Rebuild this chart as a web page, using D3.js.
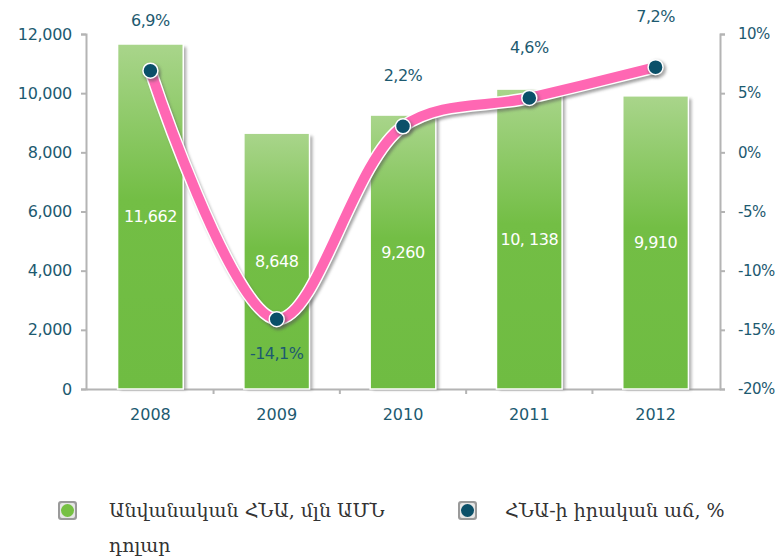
<!DOCTYPE html>
<html>
<head>
<meta charset="utf-8">
<script src="https://cdn.jsdelivr.net/npm/d3@7"></script>
<style>
  body { margin: 0; background: #fff; }
  #viz text { font-family: "DejaVu Sans", sans-serif; }
</style>
</head>
<body>
<div id="viz"></div>
<script>
// chart data
var years = ['2008', '2009', '2010', '2011', '2012'];
var gdp = [11662, 8648, 9260, 10138, 9910];
var gdpLabels = ['11,662', '8,648', '9,260', '10, 138', '9,910'];
var growth = [6.9, -14.1, 2.2, 4.6, 7.2];
var growthLabels = ['6,9%', '-14,1%', '2,2%', '4,6%', '7,2%'];
var leftTicks = [0, 2000, 4000, 6000, 8000, 10000, 12000];
var rightTicks = [-20, -15, -10, -5, 0, 5, 10];
var legendNames = ['Անվանական ՀՆԱ, մլն ԱՄՆ', 'ՀՆԱ-ի իրական աճ, %'];

var W = 784, H = 556;
var margin = {top: 34, right: 64, bottom: 167, left: 86};
var width = W - margin.left - margin.right,
    height = H - margin.top - margin.bottom;

var teal = '#1d5a70';

var svgRoot = d3.select('#viz').append('svg')
    .attr('width', W)
    .attr('height', H);

var defs = svgRoot.append('defs');
var grad = defs.append('linearGradient')
    .attr('id', 'barGrad')
    .attr('x1', 0).attr('y1', 0).attr('x2', 0).attr('y2', 1);
grad.append('stop').attr('offset', '0%').attr('stop-color', '#a9d58b');
grad.append('stop').attr('offset', '45%').attr('stop-color', '#73be45');
grad.append('stop').attr('offset', '100%').attr('stop-color', '#6fbc42');

var blur = defs.append('filter').attr('id', 'shadow')
    .attr('x', '-20%').attr('y', '-20%').attr('width', '140%').attr('height', '140%');
blur.append('feGaussianBlur').attr('stdDeviation', 1.5);

var svg = svgRoot.append('g')
    .attr('transform', 'translate(' + margin.left + ',' + margin.top + ')');

// scales
var x = d3.scaleBand().domain(years).range([0, width]).paddingInner(0.48).paddingOuter(0.25);
var y = d3.scaleLinear().domain([0, 12000]).range([height, 0]);
var y2 = d3.scaleLinear().domain([-20, 10]).range([height, 0]);

// left axis
var yAxis = svg.append('g')
    .call(d3.axisLeft(y).tickValues(leftTicks).tickSize(5).tickPadding(9)
      .tickFormat(d3.format(',')));
yAxis.select('.domain').attr('stroke', '#b4b4b4').attr('stroke-width', 2);
yAxis.selectAll('line').attr('stroke', '#b4b4b4').attr('stroke-width', 2);
yAxis.selectAll('text').attr('fill', teal).style('font-size', '16px')
    .style('letter-spacing', '-0.3px');

// right axis
var y2Axis = svg.append('g')
    .attr('transform', 'translate(' + width + ',0)')
    .call(d3.axisRight(y2).tickValues(rightTicks).tickSize(5).tickPadding(13)
      .tickFormat(function(d) { return d + '%'; }));
y2Axis.select('.domain').attr('stroke', '#b4b4b4').attr('stroke-width', 2);
y2Axis.selectAll('line').attr('stroke', '#b4b4b4').attr('stroke-width', 2);
y2Axis.selectAll('text').attr('fill', teal).style('font-size', '15px')
    .style('letter-spacing', '-0.5px');

// bottom axis
var step = x.step();
var xAxis = svg.append('g')
    .attr('transform', 'translate(0,' + height + ')')
    .call(d3.axisBottom(x).tickSize(0).tickPadding(20));
xAxis.select('.domain').attr('stroke', '#b4b4b4').attr('stroke-width', 2);
xAxis.selectAll('text').attr('fill', teal).style('font-size', '16px');
xAxis.selectAll('.sep')
    .data(years.slice(1))
    .enter().append('line')
    .attr('x1', function(d) { return x(d) - (step - x.bandwidth()) / 2; })
    .attr('x2', function(d) { return x(d) - (step - x.bandwidth()) / 2; })
    .attr('y1', 0).attr('y2', 5)
    .attr('stroke', '#b4b4b4').attr('stroke-width', 2);

// bars
var bars = svg.selectAll('.bar')
    .data(gdp)
    .enter().append('g')
    .attr('class', 'bar');
bars.append('rect')
    .attr('x', function(d, i) { return x(years[i]) + 3; })
    .attr('y', function(d) { return y(d) + 3; })
    .attr('width', x.bandwidth())
    .attr('height', function(d) { return height - y(d) - 2; })
    .attr('fill', '#777')
    .attr('opacity', 0.6)
    .attr('filter', 'url(#shadow)');
bars.append('rect')
    .attr('x', function(d, i) { return x(years[i]); })
    .attr('y', function(d) { return y(d); })
    .attr('width', x.bandwidth())
    .attr('height', function(d) { return height - y(d); })
    .attr('fill', 'url(#barGrad)')
    .attr('stroke', '#fff')
    .attr('stroke-width', 1.5);
bars.append('text')
    .attr('x', function(d, i) { return x(years[i]) + x.bandwidth() / 2; })
    .attr('y', function(d) { return y(d / 2) + 6; })
    .attr('text-anchor', 'middle')
    .attr('fill', '#fff')
    .style('font-size', '16px')
    .style('letter-spacing', '-0.5px')
    .text(function(d, i) { return gdpLabels[i]; });

// growth line
var pts = growth.map(function(g, i) { return [x(years[i]) + x.bandwidth() / 2, y2(g)]; });
var line = d3.line().curve(d3.curveCatmullRom.alpha(0.5));

svg.append('path')
    .attr('d', line(pts))
    .attr('transform', 'translate(2,3)')
    .attr('fill', 'none')
    .attr('stroke', '#555')
    .attr('stroke-width', 12)
    .attr('opacity', 0.55)
    .attr('filter', 'url(#shadow)');
svg.append('path')
    .attr('d', line(pts))
    .attr('fill', 'none')
    .attr('stroke', '#fff')
    .attr('stroke-width', 13);
svg.append('path')
    .attr('d', line(pts))
    .attr('fill', 'none')
    .attr('stroke', '#ff67b3')
    .attr('stroke-width', 10);

svg.selectAll('.dotShadow')
    .data(pts)
    .enter().append('circle')
    .attr('cx', function(d) { return d[0] + 1.5; })
    .attr('cy', function(d) { return d[1] + 2; })
    .attr('r', 9)
    .attr('fill', '#555')
    .attr('opacity', 0.5)
    .attr('filter', 'url(#shadow)');
svg.selectAll('.dot')
    .data(pts)
    .enter().append('circle')
    .attr('cx', function(d) { return d[0]; })
    .attr('cy', function(d) { return d[1]; })
    .attr('r', 7.5)
    .attr('fill', '#0b5069')
    .attr('stroke', '#fff')
    .attr('stroke-width', 1.5);

svg.selectAll('.glabel')
    .data(growth)
    .enter().append('text')
    .attr('x', function(d, i) { return pts[i][0]; })
    .attr('y', function(d, i) { return d < 0 ? pts[i][1] + 40 : pts[i][1] - 45; })
    .attr('text-anchor', 'middle')
    .attr('fill', teal)
    .style('font-size', '16px')
    .style('letter-spacing', '-0.5px')
    .text(function(d, i) { return growthLabels[i]; });

// legend
var legend = svgRoot.append('g');
var lx = [60, 460];
var lcolor = ['#76c043', '#0b5069'];
lx.forEach(function(px, i) {
  legend.append('rect')
    .attr('x', px - 2).attr('y', 501)
    .attr('width', 19).attr('height', 19).attr('rx', 3)
    .attr('fill', '#9a9a9a');
  legend.append('rect')
    .attr('x', px).attr('y', 503)
    .attr('width', 15).attr('height', 15).attr('rx', 2)
    .attr('fill', '#e6e6e6');
  legend.append('circle')
    .attr('cx', px + 7.5).attr('cy', 510.5).attr('r', 6.5)
    .attr('fill', lcolor[i]);
});
var legendFont = '"DejaVu Serif", serif';
legend.append('text')
    .attr('x', 109).attr('y', 517)
    .attr('fill', '#333')
    .style('font-family', legendFont)
    .style('font-size', '19px')
    .text(legendNames[0]);
legend.append('text')
    .attr('x', 109).attr('y', 552)
    .attr('fill', '#333')
    .style('font-family', legendFont)
    .style('font-size', '19px')
    .text('դոլար');
legend.append('text')
    .attr('x', 505).attr('y', 517)
    .attr('fill', '#333')
    .style('font-family', legendFont)
    .style('font-size', '19px')
    .text(legendNames[1]);
</script>
</body>
</html>
